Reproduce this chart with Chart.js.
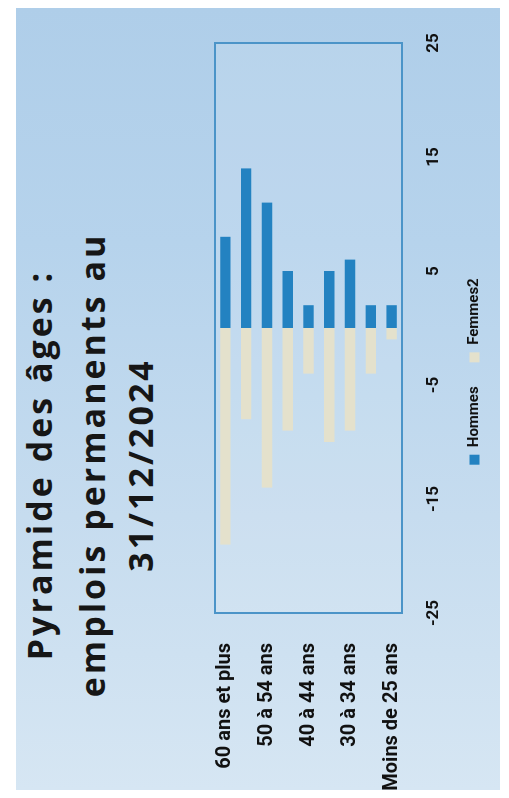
<!DOCTYPE html>
<html lang="fr">
<head>
<meta charset="utf-8">
<title>Pyramide des âges</title>
<script src="https://cdn.jsdelivr.net/npm/chart.js@4.4.1/dist/chart.umd.min.js"></script>
<style>
  html, body { margin: 0; padding: 0; background: #ffffff; overflow: hidden; }
  body { width: 509px; height: 798px; position: relative; }
  /* the slide is laid out landscape, then turned a quarter turn to read upward */
  #slide {
    position: absolute; left: 0; top: 0;
    width: 798px; height: 509px;
    transform-origin: 0 0;
    transform: translateY(798px) rotate(-90deg);
    background: #ffffff;
  }
  #panel {
    position: absolute; left: 8px; right: 8px; top: 16px; bottom: 9px;
    background: linear-gradient(90deg, #d6e6f3 0%, #c6dcef 35%, #b6d3ec 70%, #afcee9 100%);
  }
  .title-line {
    position: absolute; left: 0; width: 666px;
    text-align: center; white-space: nowrap;
    font-family: "Open Sans", "DejaVu Sans", sans-serif;
    font-weight: bold; font-size: 34px; line-height: 34px;
    letter-spacing: 3px; color: #161616;
  }
  #chart { position: absolute; left: 0; top: 0; }
</style>
</head>
<body>
<div id="slide">
  <div id="panel"></div>
  <div id="titleBox"></div>
  <canvas id="chart" width="798" height="509"></canvas>
</div>
<script>
// Age groups, oldest first
const categories = [
  '60 ans et plus', '55 à 59 ans', '50 à 54 ans', '45 à 49 ans',
  '40 à 44 ans', '35 à 39 ans', '30 à 34 ans', '25 à 29 ans', 'Moins de 25 ans'
];
// Headcounts per group (women plotted on the negative side)
const hommes  = [8, 14, 11, 5, 2, 5, 6, 2, 2];
const femmes2 = [-19, -8, -14, -9, -4, -10, -9, -4, -1];
// Value axis tick labels
const tickValues = [-25, -15, -5, 5, 15, 25];

const titleLines = ['Pyramide des âges :', 'emplois permanents au', '31/12/2024'];
const titleTops = [22, 75, 123];

// Slide heading, one block per line
const titleBox = document.getElementById('titleBox');
titleLines.forEach((txt, i) => {
  const d = document.createElement('div');
  d.className = 'title-line';
  d.style.top = titleTops[i] + 'px';
  d.textContent = txt;
  titleBox.appendChild(d);
});

const labelFont = 'Roboto, "Liberation Sans", sans-serif';

// Thin frame around the plotting area
const plotFrame = {
  id: 'plotFrame',
  beforeDatasetsDraw(chart) {
    const { ctx, chartArea: a } = chart;
    ctx.save();
    ctx.fillStyle = 'rgba(255,255,255,0.10)';
    ctx.fillRect(a.left, a.top, a.right - a.left, a.bottom - a.top);
    ctx.strokeStyle = '#4b94c8';
    ctx.lineWidth = 2;
    ctx.strokeRect(a.left, a.top, a.right - a.left, a.bottom - a.top);
    ctx.restore();
  }
};

// Slide the legend a little toward the positive side of the axis
const legendOffset = {
  id: 'legendOffset',
  afterInit(chart) {
    const lg = chart.legend;
    if (!lg) return;
    const draw = lg.draw;
    lg.draw = function (...args) {
      this.ctx.save();
      this.ctx.translate(45, 0);
      draw.apply(this, args);
      this.ctx.restore();
    };
  }
};

new Chart(document.getElementById('chart'), {
  type: 'bar',
  data: {
    labels: categories,
    datasets: [
      {
        label: 'Hommes',
        data: hommes,
        backgroundColor: '#2382c1',
        barPercentage: 0.5,
        categoryPercentage: 1.0
      },
      {
        label: 'Femmes2',
        data: femmes2,
        backgroundColor: '#e4e1cc',
        barPercentage: 0.5,
        categoryPercentage: 1.0
      }
    ]
  },
  options: {
    indexAxis: 'y',
    responsive: false,
    animation: false,
    devicePixelRatio: 1,
    layout: { padding: { left: 8, right: 43, top: 215, bottom: 17 } },
    scales: {
      x: {
        stacked: true,
        min: -25,
        max: 25,
        afterBuildTicks(scale) {
          scale.ticks = tickValues.map(v => ({ value: v }));
        },
        afterFit(scale) { scale.height = 41; },
        grid: { display: false, drawTicks: false },
        border: { display: false },
        ticks: {
          padding: 22,
          color: '#111111',
          font: { family: labelFont, size: 17, weight: 'bold' }
        }
      },
      y: {
        stacked: true,
        afterFit(scale) { scale.width = 177; },
        grid: { display: false, drawTicks: false },
        border: { display: false },
        ticks: {
          autoSkip: false,
          padding: 30,
          color: '#111111',
          font: { family: labelFont, size: 20, weight: 'bold' },
          callback(value, index) {
            return index % 2 === 0 ? this.getLabelForValue(value) : '';
          }
        }
      }
    },
    plugins: {
      title: { display: false },
      legend: {
        display: true,
        position: 'bottom',
        labels: {
          boxWidth: 10,
          boxHeight: 10,
          padding: 24,
          color: '#111111',
          font: { family: labelFont, size: 15, weight: 'bold' }
        }
      },
      tooltip: { enabled: false }
    }
  },
  plugins: [plotFrame, legendOffset]
});
</script>
</body>
</html>
